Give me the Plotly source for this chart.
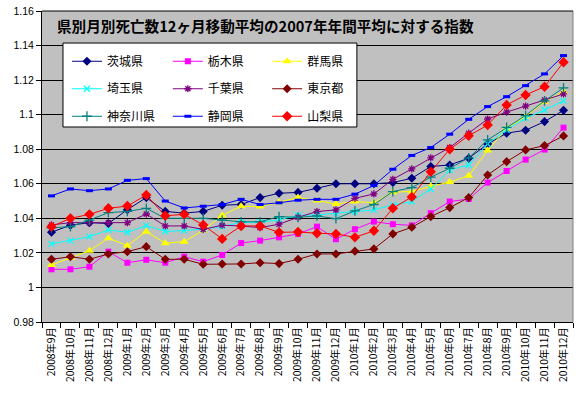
import plotly.graph_objects as go

categories = ["2008年9月", "2008年10月", "2008年11月", "2008年12月",
              "2009年1月", "2009年2月", "2009年3月", "2009年4月", "2009年5月", "2009年6月",
              "2009年7月", "2009年8月", "2009年9月", "2009年10月", "2009年11月", "2009年12月",
              "2010年1月", "2010年2月", "2010年3月", "2010年4月", "2010年5月", "2010年6月",
              "2010年7月", "2010年8月", "2010年9月", "2010年10月", "2010年11月", "2010年12月"]

ibaraki = [1.032, 1.036, 1.0375, 1.037, 1.045, 1.052, 1.044, 1.043, 1.044, 1.0476, 1.048, 1.052,
           1.0545, 1.055, 1.0574, 1.060, 1.060, 1.060, 1.0607, 1.0632, 1.070, 1.0709, 1.0748, 1.083,
           1.0893, 1.091, 1.096, 1.1025]
tochigi = [1.0105, 1.0105, 1.012, 1.0207, 1.0143, 1.016, 1.0143, 1.0178, 1.0149, 1.0188, 1.0257, 1.0271,
           1.029, 1.031, 1.0352, 1.0279, 1.0337, 1.0381, 1.0366, 1.0359, 1.043, 1.0497, 1.0512, 1.0607,
           1.0674, 1.074, 1.0798, 1.0925]
gunma = [1.013, 1.017, 1.0213, 1.0285, 1.0242, 1.0323, 1.0256, 1.0265, 1.033, 1.0417, 1.047, 1.0468,
         1.0493, 1.052, 1.0503, 1.0483, 1.0497, 1.049, 1.0551, 1.0556, 1.0585, 1.061, 1.0646, 1.0793,
         1.092, 1.099, 1.1075, 1.1133]
saitama = [1.0252, 1.0271, 1.0294, 1.0333, 1.0319, 1.0358, 1.0325, 1.0329, 1.0338, 1.0352, 1.0377, 1.0377,
           1.0391, 1.0419, 1.0419, 1.043, 1.0439, 1.0449, 1.0478, 1.0497, 1.057, 1.068, 1.0709, 1.0831,
           1.0912, 1.098, 1.1027, 1.108]
chiba = [1.0362, 1.0375, 1.0375, 1.0375, 1.0375, 1.0425, 1.0356, 1.0356, 1.0336, 1.036, 1.0356, 1.0346,
         1.0366, 1.0406, 1.0439, 1.0449, 1.0516, 1.0541, 1.0626, 1.0686, 1.075, 1.081, 1.0893, 1.0975,
         1.1015, 1.105, 1.1085, 1.112]
tokyo = [1.0163, 1.0178, 1.0163, 1.0194, 1.0207, 1.0236, 1.0163, 1.0163, 1.0134, 1.0136, 1.0136, 1.0143,
         1.0138, 1.0163, 1.0194, 1.0194, 1.021, 1.0223, 1.031, 1.0348, 1.041, 1.0462, 1.052, 1.0651,
         1.0728, 1.0796, 1.0821, 1.0877]
kanagawa = [1.0345, 1.0352, 1.039, 1.0433, 1.044, 1.0458, 1.040, 1.040, 1.040, 1.039, 1.038, 1.038,
            1.041, 1.0406, 1.0414, 1.0398, 1.0443, 1.048, 1.0555, 1.0578, 1.0638, 1.069, 1.075, 1.0854,
            1.0927, 1.0995, 1.108, 1.1155]
shizuoka = [1.053, 1.057, 1.056, 1.057, 1.062, 1.063, 1.050, 1.046, 1.047, 1.048, 1.051, 1.048,
            1.049, 1.0505, 1.051, 1.051, 1.054, 1.059, 1.0684, 1.0764, 1.081, 1.0887, 1.0973, 1.1047,
            1.1104, 1.1168, 1.1236, 1.1342]
yamanashi = [1.0352, 1.040, 1.0423, 1.0458, 1.0471, 1.0535, 1.0415, 1.0423, 1.0362, 1.0281, 1.0356, 1.0356,
             1.0319, 1.0321, 1.0314, 1.031, 1.029, 1.0328, 1.0458, 1.0524, 1.067, 1.080, 1.0878, 1.094,
             1.1056, 1.1114, 1.1162, 1.1303]

y_tickvals = [0.98, 1.0, 1.02, 1.04, 1.06, 1.08, 1.1, 1.12, 1.14, 1.16]
y_ticktext = ["0.98", "1", "1.02", "1.04", "1.06", "1.08", "1.1", "1.12", "1.14", "1.16"]

title_text = "県別月別死亡数12ヶ月移動平均の2007年年間平均に対する指数"

series = [
    ("茨城県", ibaraki, "#000080", "diamond", 7, "legend"),
    ("栃木県", tochigi, "#FF00FF", "square", 6, "legend2"),
    ("群馬県", gunma, "#FFFF00", "triangle-up", 8, "legend3"),
    ("埼玉県", saitama, "#00FFFF", "x-thin", 6, "legend"),
    ("千葉県", chiba, "#800080", "asterisk", 6, "legend2"),
    ("東京都", tokyo, "#800000", "diamond", 7, "legend3"),
    ("神奈川県", kanagawa, "#008080", "cross-thin", 7, "legend"),
    ("静岡県", shizuoka, "#0000FF", "line-ew", 5, "legend2"),
    ("山梨県", yamanashi, "#FF0000", "diamond", 8, "legend3"),
]

fig = go.Figure()
for name, vals, color, symbol, size, leg in series:
    thin = symbol in ("x-thin", "asterisk", "cross-thin", "line-ew")
    marker = dict(symbol=symbol, size=size, color=color)
    if thin:
        marker["line"] = dict(color=color, width=3 if symbol == "line-ew" else 1.3)
    else:
        marker["line"] = dict(width=0)
    fig.add_trace(go.Scatter(
        x=categories, y=vals, name=name, mode="lines+markers",
        line=dict(color=color, width=1), marker=marker,
        legend=leg, legendgroup=name,
    ))

font_jp = "Noto Sans CJK JP"
leg_common = dict(bgcolor="rgba(0,0,0,0)", borderwidth=0, font=dict(family=font_jp, size=12, color="black"),
                  xanchor="left", yanchor="top", y=0.885, tracegroupgap=8.5, itemwidth=30)

fig.update_layout(
    width=579, height=395,
    margin=dict(l=42, r=6, t=11, b=73, autoexpand=False),
    paper_bgcolor="white", plot_bgcolor="#C0C0C0",
    showlegend=True,
    legend=dict(x=0.047, **leg_common),
    legend2=dict(x=0.237, **leg_common),
    legend3=dict(x=0.424, **leg_common),
    xaxis=dict(type="category", showgrid=False, showline=True, linecolor="black", linewidth=1,
               ticks="outside", ticklen=5, tickcolor="black", tickson="boundaries",
               tickangle=-90, tickfont=dict(family=font_jp, size=10.3, color="black"),
               range=[-0.5, len(categories) - 0.5], fixedrange=True, automargin=False),
    yaxis=dict(range=[0.98, 1.16], tickvals=y_tickvals, ticktext=y_ticktext,
               showgrid=True, gridcolor="black", gridwidth=1, zeroline=False,
               showline=True, linecolor="black", linewidth=1,
               ticks="outside", ticklen=5, tickcolor="black", automargin=False,
               tickfont=dict(family="Liberation Sans, Arial", size=10.5, color="black")),
    shapes=[
        dict(type="rect", xref="paper", yref="paper", x0=0.0395, x1=0.593, y0=0.627, y1=0.897,
             fillcolor="white", line=dict(color="black", width=1), layer="above"),
        dict(type="line", xref="paper", yref="paper", x0=1, x1=1, y0=0, y1=1,
             line=dict(color="#808080", width=1)),
        dict(type="line", xref="paper", yref="paper", x0=0, x1=1, y0=1, y1=1,
             line=dict(color="black", width=1)),
    ],
    annotations=[
        dict(text="<b>" + title_text + "</b>", xref="paper", yref="paper", x=0.0245, y=0.953,
             xanchor="left", yanchor="middle", showarrow=False,
             font=dict(family=font_jp, size=14.6, color="black")),
    ],
)

fig.write_html("out.html", config={"displayModeBar": False},
               post_script="document.body.style.margin='0px';")
